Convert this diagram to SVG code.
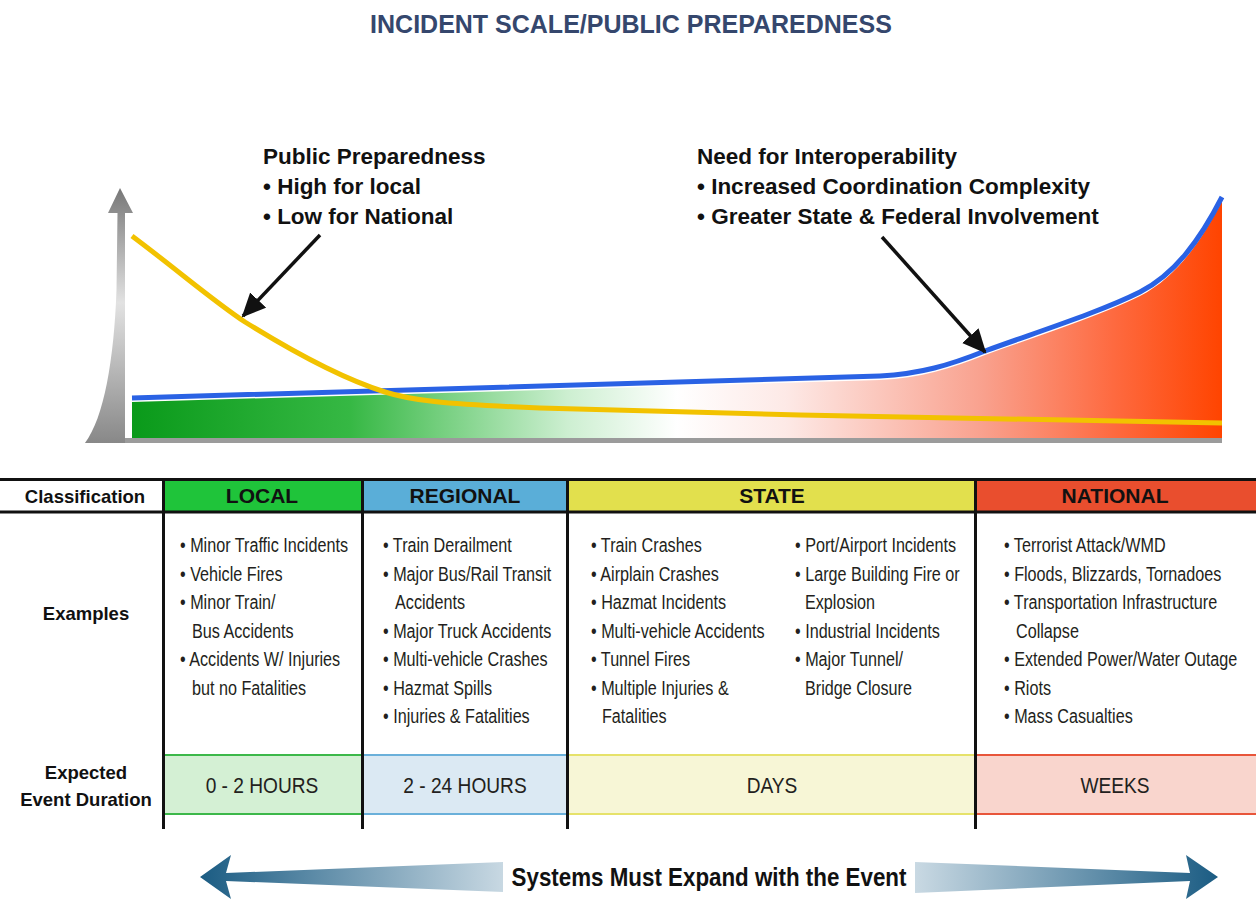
<svg xmlns="http://www.w3.org/2000/svg" width="1256" height="899" viewBox="0 0 1256 899">
  <style>
    .title { font-family: "Liberation Sans", Arial, sans-serif; font-weight: bold; font-size: 25px; fill: #35476d; }
    .note { font-family: "Liberation Sans", Arial, sans-serif; font-weight: bold; font-size: 22.5px; fill: #111; }
    .rowlbl { font-family: "Liberation Sans", Arial, sans-serif; font-weight: bold; font-size: 18.5px; fill: #111; text-anchor: middle; }
    .head { font-family: "Liberation Sans", Arial, sans-serif; font-weight: bold; font-size: 21px; fill: #111; text-anchor: middle; }
    .item { font-family: "Liberation Sans", Arial, sans-serif; font-size: 21px; fill: #231f20; }
    .dur { font-family: "Liberation Sans", Arial, sans-serif; font-size: 22px; fill: #231f20; text-anchor: middle; }
    .expand { font-family: "Liberation Sans", Arial, sans-serif; font-weight: bold; font-size: 26px; fill: #111; text-anchor: middle; }
    .rule { stroke: #111; stroke-width: 3; fill: none; }
    .pointer { stroke: #111; stroke-width: 3.5; fill: none; marker-end: url(#blackHead); }
  </style>
  <defs>
    <marker id="blackHead" markerUnits="userSpaceOnUse" markerWidth="26" markerHeight="24" refX="22" refY="11" orient="auto">
      <path d="M0,0 L24,11 L0,22 Z" fill="#111"/>
    </marker>
    <linearGradient id="axisGrad" x1="0" y1="188" x2="0" y2="443" gradientUnits="userSpaceOnUse">
      <stop offset="0" stop-color="#777"/>
      <stop offset="0.45" stop-color="#e2e2e2"/>
      <stop offset="1" stop-color="#888"/>
    </linearGradient>
    <linearGradient id="scaleGrad" x1="132" y1="0" x2="1222" y2="0" gradientUnits="userSpaceOnUse">
      <stop offset="0" stop-color="#0a9a1a"/>
      <stop offset="0.2" stop-color="#36b844"/>
      <stop offset="0.4" stop-color="#cdefd1"/>
      <stop offset="0.5" stop-color="#ffffff"/>
      <stop offset="0.6" stop-color="#fde9e6"/>
      <stop offset="0.78" stop-color="#f9a18e"/>
      <stop offset="0.9" stop-color="#fe6a40"/>
      <stop offset="1" stop-color="#ff4400"/>
    </linearGradient>
    <linearGradient id="leftGrad" x1="200" y1="0" x2="505" y2="0" gradientUnits="userSpaceOnUse">
      <stop offset="0" stop-color="#1b5c83"/>
      <stop offset="1" stop-color="#c9d9e3"/>
    </linearGradient>
    <linearGradient id="rightGrad" x1="915" y1="0" x2="1218" y2="0" gradientUnits="userSpaceOnUse">
      <stop offset="0" stop-color="#c9d9e3"/>
      <stop offset="1" stop-color="#1b5c83"/>
    </linearGradient>
  </defs>

  <rect width="1256" height="899" fill="#fff"/>

  <text class="title" x="631" y="33" text-anchor="middle">INCIDENT SCALE/PUBLIC PREPAREDNESS</text>

  <!-- chart: axes, scale area and trend lines -->
  <g id="chart">
    <path d="M120,188 L133,213 L125,213 L125,443 L85,443 C104,418 114,360 116.5,290 L117.5,213 L108,213 Z" fill="url(#axisGrad)"/>
    <path d="M132,402 L880,380 C920,378 950,369 985,355 C1040,335 1100,316 1140,296 C1175,278 1200,244 1222,201 L1222,438 L132,438 Z" fill="url(#scaleGrad)"/>
    <rect x="125" y="438" width="1097" height="5" fill="#9b9b9b"/>
    <path d="M132,398 L880,376 C920,374 950,365 985,351 C1040,331 1100,312 1140,292 C1175,274 1200,240 1222,197" fill="none" stroke="#2a62e4" stroke-width="5"/>
    <path d="M132,236 C180,272 212,300 245,322 C290,350 340,378 385,392 C410,400 440,404 540,408 L800,415 L1222,423" fill="none" stroke="#f2c200" stroke-width="5"/>
  </g>

  <g id="note-preparedness">
    <text class="note" x="263" y="164">Public Preparedness</text>
    <text class="note" x="263" y="194">• High for local</text>
    <text class="note" x="263" y="224">• Low for National</text>
  </g>
  <g id="note-interoperability">
    <text class="note" x="697" y="164">Need for Interoperability</text>
    <text class="note" x="697" y="194">• Increased Coordination Complexity</text>
    <text class="note" x="697" y="224">• Greater State &amp; Federal Involvement</text>
  </g>

  <g id="connectors">
    <path class="pointer" d="M320,235 L243,316"/>
    <path class="pointer" d="M882,237 L985,352"/>
  </g>

  <!-- classification table -->
  <g id="table">
    <rect x="163" y="481" width="199" height="30" fill="#1fc43a"/>
    <rect x="362" y="481" width="205" height="30" fill="#5aaed8"/>
    <rect x="567" y="481" width="408" height="30" fill="#e2e04d"/>
    <rect x="975" y="481" width="281" height="30" fill="#e94e2e"/>

    <rect x="163" y="754" width="199" height="61" fill="#d4f0d4"/>
    <rect x="362" y="754" width="205" height="61" fill="#dbe9f3"/>
    <rect x="567" y="754" width="408" height="61" fill="#f7f6d6"/>
    <rect x="975" y="754" width="281" height="61" fill="#f9d5cd"/>
    <path d="M163,755 H362 M163,814 H362" stroke="#3cb84a" stroke-width="2"/>
    <path d="M362,755 H567 M362,814 H567" stroke="#6ab0da" stroke-width="2"/>
    <path d="M567,755 H975 M567,814 H975" stroke="#e6e26a" stroke-width="2"/>
    <path d="M975,755 H1256 M975,814 H1256" stroke="#e8553a" stroke-width="2"/>

    <path class="rule" d="M0,479.5 H1256 M0,512 H1256"/>
    <path class="rule" d="M163.5,479 V829 M362.5,479 V829 M567.5,479 V829 M975.5,479 V829"/>
  </g>

  <g id="row-labels">
    <text class="rowlbl" x="85" y="503">Classification</text>
    <text class="rowlbl" x="86" y="620">Examples</text>
    <text class="rowlbl" x="86" y="779">Expected</text>
    <text class="rowlbl" x="86" y="806">Event Duration</text>
  </g>

  <!-- each column's list is set in a horizontally condensed frame -->
  <g id="local">
    <text class="head" x="262" y="503">LOCAL</text>
    <g transform="translate(180,0) scale(0.77,1)">
      <text class="item" x="0" y="552">• Minor Traffic Incidents</text>
      <text class="item" x="0" y="581">• Vehicle Fires</text>
      <text class="item" x="0" y="609">• Minor Train/</text>
      <text class="item" x="15.6" y="638">Bus Accidents</text>
      <text class="item" x="0" y="666">• Accidents W/ Injuries</text>
      <text class="item" x="15.6" y="695">but no Fatalities</text>
    </g>
    <text class="dur" transform="translate(262,793) scale(0.87,1)">0 - 2 HOURS</text>
  </g>

  <g id="regional">
    <text class="head" x="465" y="503">REGIONAL</text>
    <g transform="translate(383,0) scale(0.77,1)">
      <text class="item" x="0" y="552">• Train Derailment</text>
      <text class="item" x="0" y="581">• Major Bus/Rail Transit</text>
      <text class="item" x="15.6" y="609">Accidents</text>
      <text class="item" x="0" y="638">• Major Truck Accidents</text>
      <text class="item" x="0" y="666">• Multi-vehicle Crashes</text>
      <text class="item" x="0" y="695">• Hazmat Spills</text>
      <text class="item" x="0" y="723">• Injuries &amp; Fatalities</text>
    </g>
    <text class="dur" transform="translate(465,793) scale(0.87,1)">2 - 24 HOURS</text>
  </g>

  <g id="state">
    <text class="head" x="772" y="503">STATE</text>
    <g transform="translate(591,0) scale(0.77,1)">
      <text class="item" x="0" y="552">• Train Crashes</text>
      <text class="item" x="0" y="581">• Airplain Crashes</text>
      <text class="item" x="0" y="609">• Hazmat Incidents</text>
      <text class="item" x="0" y="638">• Multi-vehicle Accidents</text>
      <text class="item" x="0" y="666">• Tunnel Fires</text>
      <text class="item" x="0" y="695">• Multiple Injuries &amp;</text>
      <text class="item" x="14.3" y="723">Fatalities</text>
    </g>
    <g transform="translate(795,0) scale(0.77,1)">
      <text class="item" x="0" y="552">• Port/Airport Incidents</text>
      <text class="item" x="0" y="581">• Large Building Fire or</text>
      <text class="item" x="13" y="609">Explosion</text>
      <text class="item" x="0" y="638">• Industrial Incidents</text>
      <text class="item" x="0" y="666">• Major Tunnel/</text>
      <text class="item" x="13" y="695">Bridge Closure</text>
    </g>
    <text class="dur" transform="translate(772,793) scale(0.87,1)">DAYS</text>
  </g>

  <g id="national">
    <text class="head" x="1115" y="503">NATIONAL</text>
    <g transform="translate(1004,0) scale(0.77,1)">
      <text class="item" x="0" y="552">• Terrorist Attack/WMD</text>
      <text class="item" x="0" y="581">• Floods, Blizzards, Tornadoes</text>
      <text class="item" x="0" y="609">• Transportation Infrastructure</text>
      <text class="item" x="15.6" y="638">Collapse</text>
      <text class="item" x="0" y="666">• Extended Power/Water Outage</text>
      <text class="item" x="0" y="695">• Riots</text>
      <text class="item" x="0" y="723">• Mass Casualties</text>
    </g>
    <text class="dur" transform="translate(1115,793) scale(0.87,1)">WEEKS</text>
  </g>

  <g id="expand">
    <path d="M200,877 L231,855 L226,873 L503,862 L503,892 L226,881 L231,899 Z" fill="url(#leftGrad)"/>
    <path d="M915,862 L1190,873 L1186,855 L1218,877 L1186,899 L1190,881 L915,893 Z" fill="url(#rightGrad)"/>
    <text class="expand" transform="translate(709,886) scale(0.86,1)">Systems Must Expand with the Event</text>
  </g>
</svg>
